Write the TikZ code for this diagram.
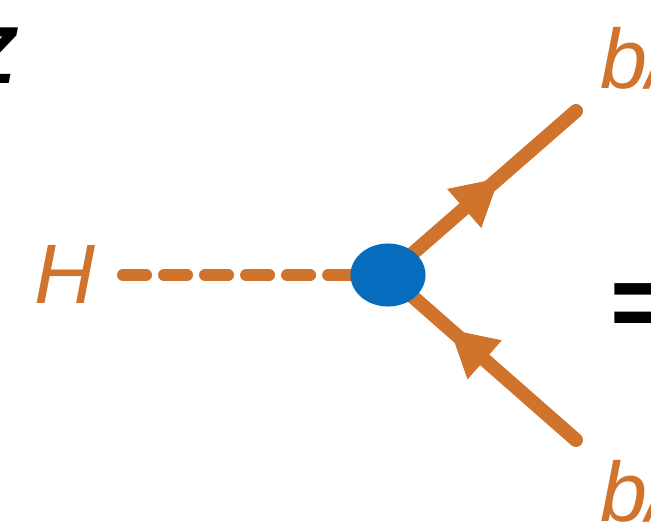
\documentclass[tikz,border=0pt]{standalone}
\usepackage{fontspec}
\setmainfont{Liberation Sans}
\usetikzlibrary{arrows.meta,decorations.markings,shapes.geometric}
\definecolor{quark}{RGB}{207,115,45}
\definecolor{blob}{RGB}{5,108,190}

\begin{document}
\begin{tikzpicture}[x=0.01cm, y=-0.01cm,
  scalar/.style={quark, line width=0.12cm, line cap=round, dash pattern=on 0.23cm off 0.18cm},
  fermion/.style={quark, line width=0.14cm, line cap=round},
  midarrow/.style={postaction={decorate}, decoration={markings,
      mark=at position #1 with {\arrow[quark]{Triangle[length=0.46cm,width=0.52cm,line width=0pt]}}}},
  lbl/.style={text=quark, inner sep=0, font=\fontsize{24}{24}\selectfont\itshape}]

\useasboundingbox (0,0) rectangle (651,527);
\clip (0,0) rectangle (651,527);

\coordinate (v) at (388,275);
\coordinate (hend) at (123,275);
\coordinate (btop) at (576,111);
\coordinate (bbot) at (576,440);

\draw[scalar] (hend) -- (v);
\draw[fermion, midarrow=0.59] (v) -- (btop);
\draw[fermion, midarrow=0.67] (bbot) -- (v);

\node[ellipse, fill=blob, inner sep=0, minimum width=0.75cm, minimum height=0.63cm] (vtx) at (v) {};

\node[lbl] (higgs) at (65,274) {H};
\node[lbl, anchor=base west] (bq) at (600,88) {b/};
\node[lbl, anchor=base west] (bqbar) at (600,521) {b/};

\node[font=\fontsize{30}{30}\selectfont\bfseries, anchor=base west, inner sep=0] (eq) at (610,338) {=};
\node[font=\fontsize{23}{23}\selectfont\bfseries\itshape, anchor=base east, inner sep=0] (zed) at (17,83) {Z};
\end{tikzpicture}
\end{document}
